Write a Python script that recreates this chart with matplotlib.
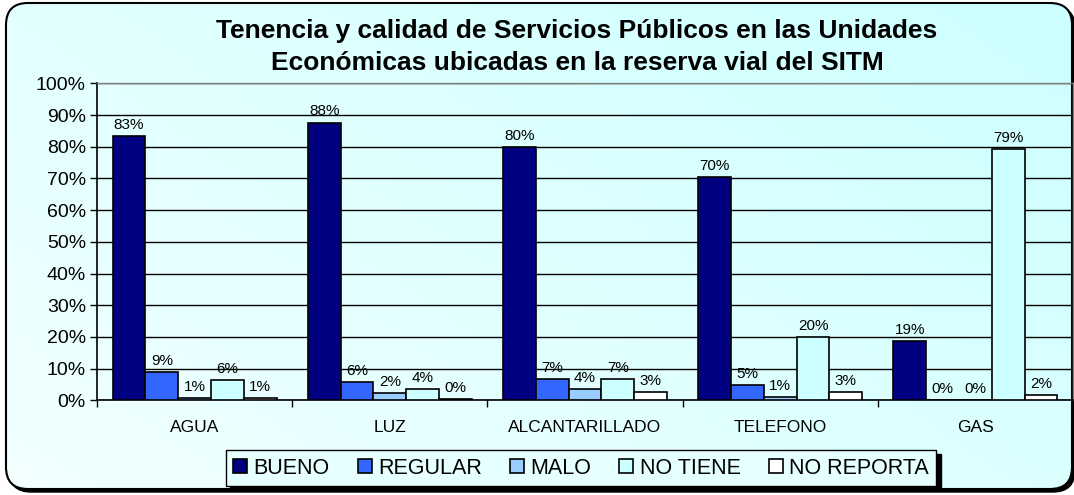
import numpy as np
import matplotlib
matplotlib.use("Agg")
import matplotlib.pyplot as plt
from matplotlib.patches import FancyBboxPatch
from matplotlib.transforms import IdentityTransform

plt.rcParams['font.family'] = ['Liberation Sans', 'DejaVu Sans']

# data
categories = ["AGUA", "LUZ", "ALCANTARILLADO", "TELEFONO", "GAS"]
series = ["BUENO", "REGULAR", "MALO", "NO TIENE", "NO REPORTA"]
bueno = [83.4, 87.6, 80.0, 70.3, 18.8]
regular = [8.8, 5.8, 6.8, 4.9, 0.0]
malo = [0.6, 2.2, 3.6, 0.9, 0.0]
no_tiene = [6.4, 3.6, 6.6, 19.9, 79.3]
no_reporta = [0.6, 0.4, 2.6, 2.6, 1.6]
values = [bueno, regular, malo, no_tiene, no_reporta]
colors = ["#000080", "#3366FF", "#99CCFF", "#CCFFFF", "#FFFFFF"]

W, H = 1074, 495
fig = plt.figure(figsize=(W / 100, H / 100), dpi=100)

# background: rounded frame with shadow and a soft gradient
bg = fig.add_axes([0, 0, 1, 1], zorder=-1)
bg.set_xlim(0, 1)
bg.set_ylim(0, 1)
bg.axis('off')
fx0, fy0, fw, fh = 6, 6, 1066, 486
shadow = FancyBboxPatch((fx0 + 3, fy0 - 3), fw, fh, boxstyle="round,pad=0,rounding_size=22",
                        transform=IdentityTransform(), facecolor="black", edgecolor="black")
bg.add_patch(shadow)
frame = FancyBboxPatch((fx0, fy0), fw, fh, boxstyle="round,pad=0,rounding_size=22",
                       transform=IdentityTransform(), facecolor="none", edgecolor="black",
                       linewidth=1.5, zorder=3)
bg.add_patch(frame)
gx, gy = np.meshgrid(np.linspace(0, 1, 200), np.linspace(1, 0, 100))
t = np.clip((gx * 0.6 + gy * 0.4), 0, 1)[..., None]
c0 = np.array([0.95, 1.0, 1.0])
c1 = np.array([0.80, 1.0, 1.0])
grad = c0 * (1 - t) + c1 * t
im = bg.imshow(grad, extent=[0, 1, 0, 1], aspect='auto', zorder=1)
clip = FancyBboxPatch((fx0, fy0), fw, fh, boxstyle="round,pad=0,rounding_size=22",
                      transform=IdentityTransform(), facecolor="none", edgecolor="none")
bg.add_patch(clip)
im.set_clip_path(clip)

ax = fig.add_axes([97 / W, (H - 400.3) / H, (1073 - 97) / W, (400.3 - 83.3) / H])
ax.patch.set_alpha(0)

n = len(series)
w = 1 / (n + 0.95)
x = np.arange(len(categories))
for j, (name, vals, col) in enumerate(zip(series, values, colors)):
    pos = x + (j - (n - 1) / 2) * w
    ax.bar(pos, vals, width=w, color=col, edgecolor="black", linewidth=1.2,
           label=name, zorder=3)
    for px, v in zip(pos, vals):
        ax.annotate(f"{v:.0f}%", (px, v), xytext=(0, 3), textcoords="offset points",
                    ha="center", va="bottom", fontsize=11, zorder=4)

ax.set_xlim(-0.5, len(categories) - 0.5)
ax.set_ylim(0, 100)
ax.set_yticks(np.arange(0, 101, 10))
ax.set_yticklabels([f"{v}%" for v in range(0, 101, 10)], fontsize=14)
ax.yaxis.grid(True, color="black", linewidth=1, zorder=0)
ax.set_axisbelow(True)
ax.set_xticks(x)
ax.set_xticklabels(categories, fontsize=12.5)
ax.set_xticks(np.arange(-0.5, len(categories)), minor=True)
ax.tick_params(axis='x', which='major', length=0, pad=14)
ax.tick_params(axis='x', which='minor', length=5, width=1, direction='out')
ax.tick_params(axis='y', length=5, width=1, pad=3)
for s in ["left", "bottom"]:
    ax.spines[s].set_color("black")
    ax.spines[s].set_linewidth(1.2)
for s in ["top", "right"]:
    ax.spines[s].set_color("#808080")
    ax.spines[s].set_linewidth(1)

fig.text(577 / W, 1 - 47 / H, "Tenencia y calidad de Servicios Públicos en las Unidades\n"
         "Económicas ubicadas en la reserva vial del SITM",
         ha="center", va="center", fontsize=19, fontweight="bold", linespacing=1.4)

leg = fig.legend(loc="center", bbox_to_anchor=(581 / W, 1 - 468 / H), ncol=5,
                 fontsize=15.5, frameon=True, fancybox=False, edgecolor="black",
                 facecolor="#E6FFFF", framealpha=1, handlelength=0.65, handleheight=0.65,
                 handletextpad=0.3, columnspacing=1.3, borderpad=0.35,
                 shadow={'color': 'black', 'alpha': 1, 'ox': 3, 'oy': -3})
leg.get_frame().set_linewidth(1)

fig.savefig("out.png", dpi=100)
